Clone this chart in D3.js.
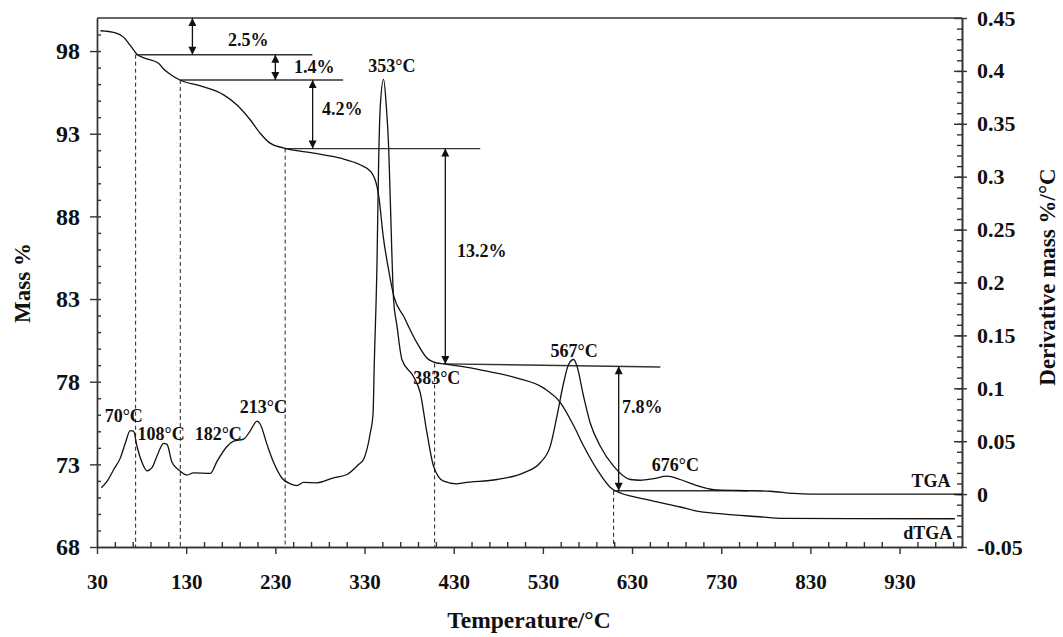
<!DOCTYPE html>
<html>
<head>
<meta charset="utf-8">
<script src="https://cdn.jsdelivr.net/npm/d3@7"></script>
<style>
    body { margin: 0; background: #fff; }
    svg text { font-family: 'Liberation Serif', 'Times New Roman', serif; font-weight: bold; fill: #111; }
    .axis path, .axis line { stroke: #333; stroke-width: 1.4; }
</style>
</head>
<body>
<svg width="1063" height="637"></svg>
<script>
// TGA mass curve: temperature (°C) and mass (%)
var massTemps = [ 33.8, 50, 60, 65, 71, 75, 82, 99, 105, 112, 123, 146, 172, 187, 202, 213, 224, 239,
                  273, 303, 325, 337, 344, 346, 351, 357, 363, 374, 389, 400, 411, 419, 460, 501, 531,
                  550, 565, 576, 591, 609, 647, 684, 700, 731, 773, 799, 992 ],
    massValues = [ 99.23, 99.11, 98.83, 98.5, 98.07, 97.8, 97.6, 97.26, 96.9, 96.6, 96.25, 95.89, 95.35,
                   94.74, 93.83, 93.03, 92.43, 92.14, 91.82, 91.52, 91.12, 90.71, 89.8, 89.2, 86.78,
                   84.77, 83.15, 81.94, 80.33, 79.43, 79.13, 79.08, 78.72, 78.22, 77.61, 76.71, 75.29,
                   74.08, 72.67, 71.46, 70.86, 70.42, 70.2, 70.0, 69.83, 69.73, 69.71 ],

    // derivative curve: temperature (°C) and derivative mass (%/°C)
    derivTemps = [ 34.8, 41.2, 48.6, 56.1, 61.7, 67.3, 71, 74.9, 80.5, 86.1, 91.7, 97.3, 104.7, 108.5,
                   114.1, 121.5, 130.9, 138.3, 157, 164.6, 175.8, 183.2, 194.4, 202, 209.4, 213.1,
                   220.6, 228, 237.5, 246.8, 254.3, 261.7, 276.7, 295.3, 310.3, 323.3, 329, 336.5,
                   339.5, 341, 344, 345.8, 347.7, 351.4, 354.4, 357, 358.9, 362.6, 366.4, 372, 385,
                   392.5, 400, 407.4, 418.7, 433.7, 441, 478.5, 508.4, 527, 538.3, 545.8, 553.2,
                   558.8, 564.5, 568.2, 575.6, 583, 594.4, 609.3, 628, 639.2, 654.1, 669.1, 684,
                   702.8, 721.4, 750.3, 785, 811, 830, 1000 ],
    derivValues = [ 0.006, 0.012, 0.023, 0.034, 0.048, 0.06, 0.0595, 0.045, 0.03, 0.022, 0.025, 0.036,
                    0.048, 0.047, 0.03, 0.023, 0.018, 0.02, 0.0195, 0.031, 0.045, 0.05, 0.052, 0.06,
                    0.069, 0.066, 0.047, 0.03, 0.015, 0.0097, 0.0081, 0.011, 0.0107, 0.0154, 0.0185,
                    0.028, 0.033, 0.058, 0.075, 0.125, 0.219, 0.313, 0.367, 0.392, 0.367, 0.329,
                    0.278, 0.184, 0.159, 0.127, 0.111, 0.0957, 0.058, 0.0264, 0.0122, 0.0097, 0.0107,
                    0.0138, 0.0201, 0.0296, 0.0453, 0.0736, 0.105, 0.1225, 0.1272, 0.121, 0.0925,
                    0.0674, 0.0453, 0.0264, 0.0138, 0.0131, 0.0147, 0.0169, 0.0138, 0.0081, 0.0043,
                    0.0034, 0.0027, 0.0006, 0, 0 ],

    xTicks     = [ 30, 130, 230, 330, 430, 530, 630, 730, 830, 930 ],
    massTicks  = [ 68, 73, 78, 83, 88, 93, 98 ],
    derivTicks = [ -0.05, 0, 0.05, 0.1, 0.15, 0.2, 0.25, 0.3, 0.35, 0.4, 0.45 ],

    // mass loss steps: level lines (start T, end T, mass at start, mass at end)
    stepLines = [
        [ 74, 271.5, 97.78, 97.78 ],
        [ 123.4, 306, 96.25, 96.25 ],
        [ 240, 459.8, 92.1, 92.1 ],
        [ 418.5, 661.7, 79.08, 78.89 ],
        [ 609, 760, 71.4, 71.4 ]
    ],
    // double arrows: T, mass from, mass to, label
    stepArrows = [
        [ 137, 100, 97.78, '2.5%' ],
        [ 230, 97.78, 96.25, '1.4%' ],
        [ 271.8, 96.25, 92.1, '4.2%' ],
        [ 420.6, 92.1, 79.07, '13.2%' ],
        [ 615, 78.93, 71.4, '7.8%' ]
    ],
    // dashed drop lines: T, mass
    dropLines = [ [ 73.3, 97.78 ], [ 123.4, 96.25 ], [ 241, 92.1 ], [ 408.6, 79.1 ], [ 609.3, 71.4 ] ],
    peakLabels = [ '70°C', '108°C', '182°C', '213°C', '353°C', '383°C', '567°C', '676°C' ];

var svg        = d3.select( 'svg' ),
    plotLeft   = 97,
    plotRight  = 962,
    plotTop    = 18,
    plotBottom = 547,
    x     = d3.scaleLinear().domain( [ 30, 1000 ] ).range( [ plotLeft, plotRight ] ),
    yMass = d3.scaleLinear().domain( [ 68, 100 ] ).range( [ plotBottom, plotTop ] ),
    yDer  = d3.scaleLinear().domain( [ -0.05, 0.45 ] ).range( [ plotBottom, plotTop ] ),
    fmt   = function( d ) { return String( +d.toFixed( 2 ) ); };

var defs = svg.append( 'defs' );
[ 'start', 'end' ].forEach( function( id ) {
    defs.append( 'marker' )
        .attr( 'id', 'arrow-' + id )
        .attr( 'viewBox', '0 0 10 10' )
        .attr( 'refX', 10 ).attr( 'refY', 5 )
        .attr( 'markerWidth', 9 ).attr( 'markerHeight', 8 )
        .attr( 'markerUnits', 'userSpaceOnUse' )
        .attr( 'orient', id === 'start' ? 'auto-start-reverse' : 'auto' )
        .append( 'path' )
        .attr( 'd', 'M0,0L10,5L0,10Z' )
        .attr( 'fill', '#111' );
} );

// frame top line
svg.append( 'line' )
    .attr( 'x1', plotLeft ).attr( 'x2', plotRight ).attr( 'y1', plotTop ).attr( 'y2', plotTop )
    .attr( 'stroke', '#333' ).attr( 'stroke-width', 1.4 );

// x axis
var xMinor = d3.range( 50, 1000, 20 ).filter( function( d ) { return ( d - 30 ) % 100 !== 0; } );
svg.append( 'g' ).attr( 'class', 'axis' )
    .attr( 'transform', 'translate(0,' + plotBottom + ')' )
    .call( d3.axisBottom( x ).tickValues( xMinor ).tickSize( -5 ).tickSizeOuter( 0 ).tickFormat( '' ) );
svg.append( 'g' ).attr( 'class', 'axis' )
    .attr( 'transform', 'translate(0,' + plotBottom + ')' )
    .call( d3.axisBottom( x ).tickValues( xTicks ).tickSize( 7 ).tickSizeOuter( 0 ).tickPadding( 20 ) )
    .selectAll( 'text' ).style( 'font-size', '21px' );

// left axis
svg.append( 'g' ).attr( 'class', 'axis' )
    .attr( 'transform', 'translate(' + plotLeft + ',0)' )
    .call( d3.axisLeft( yMass ).tickValues( d3.range( 69, 100, 1 ) ).tickSize( -4 ).tickSizeOuter( 0 ).tickFormat( '' ) );
svg.append( 'g' ).attr( 'class', 'axis' )
    .attr( 'transform', 'translate(' + plotLeft + ',0)' )
    .call( d3.axisLeft( yMass ).tickValues( massTicks ).tickSize( 7 ).tickSizeOuter( 0 ).tickPadding( 10 ) )
    .selectAll( 'text' ).style( 'font-size', '24px' );

// right axis
var derMinor = d3.range( -4, 45, 1 ).map( function( d ) { return d / 100; } );
svg.append( 'g' ).attr( 'class', 'axis' )
    .attr( 'transform', 'translate(' + plotRight + ',0)' )
    .call( d3.axisRight( yDer ).tickValues( derMinor ).tickSize( -5 ).tickSizeOuter( 0 ).tickFormat( '' ) );
svg.append( 'g' ).attr( 'class', 'axis' )
    .attr( 'transform', 'translate(' + plotRight + ',0)' )
    .call( d3.axisRight( yDer ).tickValues( derivTicks ).tickSize( -8 ).tickSizeOuter( 0 ).tickFormat( '' ) );
svg.append( 'g' ).attr( 'class', 'axis' )
    .attr( 'transform', 'translate(' + plotRight + ',0)' )
    .call( d3.axisRight( yDer ).tickValues( derivTicks ).tickSize( 5 ).tickSizeOuter( 0 ).tickPadding( 10 ).tickFormat( fmt ) )
    .selectAll( 'text' ).style( 'font-size', '22px' );

// axis titles
svg.append( 'text' )
    .attr( 'transform', 'translate(30,283) rotate(-90)' )
    .attr( 'text-anchor', 'middle' ).style( 'font-size', '23px' )
    .text( 'Mass %' );
svg.append( 'text' )
    .attr( 'transform', 'translate(1055,277) rotate(-90)' )
    .attr( 'text-anchor', 'middle' ).style( 'font-size', '23px' )
    .text( 'Derivative mass %/°C' );
svg.append( 'text' )
    .attr( 'x', 529 ).attr( 'y', 628 )
    .attr( 'text-anchor', 'middle' ).style( 'font-size', '23.5px' )
    .text( 'Temperature/°C' );

// dashed drop lines
svg.selectAll( '.drop' )
    .data( dropLines )
    .enter().append( 'line' )
    .attr( 'x1', function( d ) { return x( d[ 0 ] ); } )
    .attr( 'x2', function( d ) { return x( d[ 0 ] ); } )
    .attr( 'y1', function( d ) { return yMass( d[ 1 ] ); } )
    .attr( 'y2', plotBottom )
    .attr( 'stroke', '#222' ).attr( 'stroke-width', 1 )
    .attr( 'stroke-dasharray', '4,3' );

// step level lines
svg.selectAll( '.step' )
    .data( stepLines )
    .enter().append( 'line' )
    .attr( 'x1', function( d ) { return x( d[ 0 ] ); } )
    .attr( 'x2', function( d ) { return x( d[ 1 ] ); } )
    .attr( 'y1', function( d ) { return yMass( d[ 2 ] ); } )
    .attr( 'y2', function( d ) { return yMass( d[ 3 ] ); } )
    .attr( 'stroke', '#333' ).attr( 'stroke-width', 1.4 );

// curves
var massLine = d3.line()
        .x( function( d, i ) { return x( massTemps[ i ] ); } )
        .y( function( d ) { return yMass( d ); } )
        .curve( d3.curveMonotoneX ),
    derivLine = d3.line()
        .x( function( d, i ) { return x( derivTemps[ i ] ); } )
        .y( function( d ) { return yDer( d ); } )
        .curve( d3.curveMonotoneX );

svg.append( 'path' ).attr( 'd', massLine( massValues ) )
    .attr( 'fill', 'none' ).attr( 'stroke', '#111' ).attr( 'stroke-width', 1.3 );
svg.append( 'path' ).attr( 'd', derivLine( derivValues ) )
    .attr( 'fill', 'none' ).attr( 'stroke', '#111' ).attr( 'stroke-width', 1.3 );

// double arrows
svg.selectAll( '.arrow' )
    .data( stepArrows )
    .enter().append( 'line' )
    .attr( 'x1', function( d ) { return x( d[ 0 ] ); } )
    .attr( 'x2', function( d ) { return x( d[ 0 ] ); } )
    .attr( 'y1', function( d ) { return yMass( d[ 1 ] ); } )
    .attr( 'y2', function( d ) { return yMass( d[ 2 ] ); } )
    .attr( 'stroke', '#111' ).attr( 'stroke-width', 1.3 )
    .attr( 'marker-start', 'url(#arrow-start)' )
    .attr( 'marker-end', 'url(#arrow-end)' );

// step labels (T, mass of baseline)
var stepLabelPos = [ [ 199.7, 98.31, 'middle' ], [ 273.7, 96.68, 'middle' ], [ 282.3, 94.13, 'start' ],
                     [ 433.7, 85.57, 'start' ], [ 618.7, 76.12, 'start' ] ];
svg.selectAll( '.steplabel' )
    .data( stepArrows )
    .enter().append( 'text' )
    .attr( 'x', function( d, i ) { return x( stepLabelPos[ i ][ 0 ] ); } )
    .attr( 'y', function( d, i ) { return yMass( stepLabelPos[ i ][ 1 ] ); } )
    .attr( 'text-anchor', function( d, i ) { return stepLabelPos[ i ][ 2 ]; } )
    .style( 'font-size', '18px' )
    .text( function( d ) { return d[ 3 ]; } );

// peak labels (T centre, derivative at baseline)
var peakLabelPos = [ [ 60, 0.0677 ], [ 102, 0.0516 ], [ 166, 0.0516 ], [ 216.5, 0.0771 ],
                     [ 360.6, 0.3985 ], [ 411, 0.1036 ], [ 565, 0.13 ], [ 678.5, 0.0216 ] ];
svg.selectAll( '.peaklabel' )
    .data( peakLabels )
    .enter().append( 'text' )
    .attr( 'x', function( d, i ) { return x( peakLabelPos[ i ][ 0 ] ); } )
    .attr( 'y', function( d, i ) { return yDer( peakLabelPos[ i ][ 1 ] ); } )
    .attr( 'text-anchor', 'middle' )
    .style( 'font-size', '18px' )
    .text( function( d ) { return d; } );

// curve names
svg.append( 'text' )
    .attr( 'x', x( 987 ) ).attr( 'y', yDer( 0.0065 ) )
    .attr( 'text-anchor', 'end' ).style( 'font-size', '18px' )
    .text( 'TGA' );
svg.append( 'text' )
    .attr( 'x', x( 989 ) ).attr( 'y', yDer( -0.0429 ) )
    .attr( 'text-anchor', 'end' ).style( 'font-size', '18px' )
    .text( 'dTGA' );
</script>
</body>
</html>
